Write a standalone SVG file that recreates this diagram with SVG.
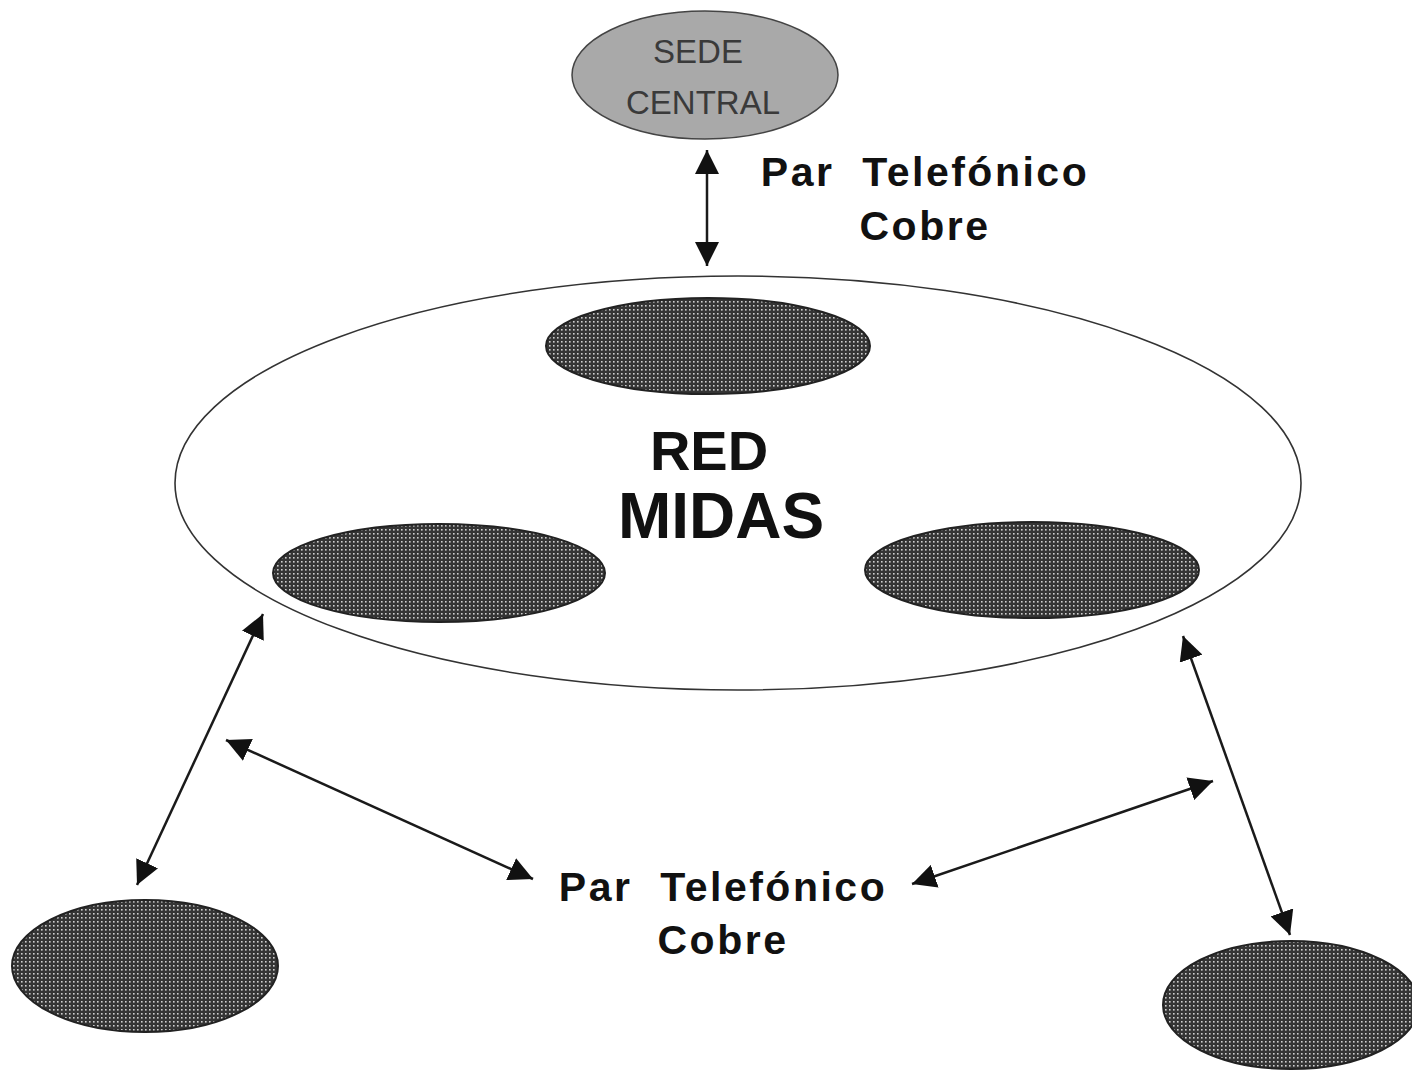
<svg xmlns="http://www.w3.org/2000/svg" width="1412" height="1071" viewBox="0 0 1412 1071">
<style>
.lbl{font-family:"Liberation Sans",Arial,sans-serif;font-weight:bold;fill:#111;text-anchor:middle}
.tel{font-size:41px;letter-spacing:2.5px}
.conn{stroke:#1a1a1a;stroke-width:2.5;fill:none;marker-start:url(#ah);marker-end:url(#ah)}
.dark{fill:url(#dots);stroke:#222;stroke-width:2}
</style>
<defs>
<pattern id="dots" width="4" height="4" patternUnits="userSpaceOnUse">
<rect width="4" height="4" fill="#353535"/>
<rect x="1" y="1" width="1.6" height="1.6" fill="#cfcfcf"/>
</pattern>
<marker id="ah" viewBox="0 0 10 10" refX="10" refY="5" markerWidth="24" markerHeight="24" markerUnits="userSpaceOnUse" orient="auto-start-reverse">
<path d="M0,0 L10,5 L0,10 Z" fill="#111"/>
</marker>
</defs>
<rect width="1412" height="1071" fill="#ffffff"/>

<g id="red-midas">
<ellipse cx="738" cy="483" rx="563" ry="207" fill="#ffffff" stroke="#333" stroke-width="1.6"/>
<text class="lbl" x="709" y="470" font-size="56">RED</text>
<text class="lbl" x="721" y="538" font-size="64">MIDAS</text>
</g>

<g id="sede-central">
<ellipse cx="705" cy="75" rx="133" ry="64" fill="#a9a9a9" stroke="#444" stroke-width="1.5"/>
<text x="698" y="63" font-family="Liberation Sans,Arial,sans-serif" font-size="33" fill="#3a3a3a" text-anchor="middle">SEDE</text>
<text x="703" y="114" font-family="Liberation Sans,Arial,sans-serif" font-size="33" fill="#3a3a3a" text-anchor="middle">CENTRAL</text>
</g>

<g id="node-top"><ellipse class="dark" cx="708" cy="346" rx="162" ry="48"/></g>
<g id="node-left"><ellipse class="dark" cx="439" cy="573" rx="166" ry="49"/></g>
<g id="node-right"><ellipse class="dark" cx="1032" cy="570" rx="167" ry="48"/></g>
<g id="node-bottom-left"><ellipse class="dark" cx="145" cy="966" rx="133" ry="66"/></g>
<g id="node-bottom-right"><ellipse class="dark" cx="1291" cy="1005" rx="128" ry="64"/></g>

<g id="connectors">
<line class="conn" x1="707" y1="150" x2="707" y2="266"/>
<line class="conn" x1="263" y1="614" x2="137" y2="885"/>
<line class="conn" x1="226" y1="740" x2="533" y2="879"/>
<line class="conn" x1="1213" y1="781" x2="912" y2="884"/>
<line class="conn" x1="1183" y1="636" x2="1290" y2="935"/>
</g>

<g id="label-top">
<text class="lbl tel" x="925" y="186" xml:space="preserve">Par  Telefónico</text>
<text class="lbl tel" x="925" y="240">Cobre</text>
</g>
<g id="label-bottom">
<text class="lbl tel" x="723" y="901" xml:space="preserve">Par  Telefónico</text>
<text class="lbl tel" x="723" y="954">Cobre</text>
</g>
</svg>
